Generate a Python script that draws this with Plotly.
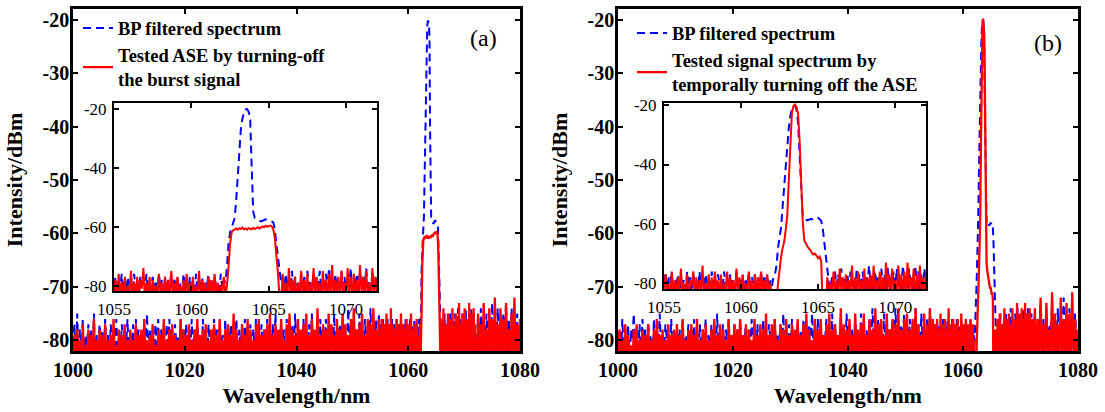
import numpy as np
import plotly.graph_objects as go

FONT = "Liberation Serif"
BLUE = "#0000FF"
RED = "#FF0000"

# ==================================================================
# Panel (a) -- BP filtered spectrum vs tested ASE (burst signal off)
# ==================================================================
# band region 1062.3 .. 1065.7 nm (0.1 nm step)
a_sig_blue = [-74, -66, -62, -60.5, -59, -57, -51, -42, -34, -27,
              -23.5, -21.2, -20.3, -20.2, -21, -23, -40, -55, -57, -57.5,
              -57.8, -58, -58.2, -58, -57.6, -57.5, -57.8, -57.9, -58, -58.2,
              -58.6, -61, -66, -70, -74]
a_sig_red = [-80, -74, -66, -62, -61.2, -61, -60.6, -61, -60.5, -60.8,
             -60.3, -60.9, -60.6, -61, -60.5, -60.7, -60.9, -60.4, -60.8, -60.5,
             -60.2, -60.6, -60.3, -59.9, -60.2, -59.7, -60, -59.8, -59.6, -59.9,
             -61, -64, -69, -76, -84]

# noise seen in the inset window: 1055.0 .. 1062.2 nm and 1065.8 .. 1072.0 nm (0.1 nm step)
a_ins_left_red = [
    -83, -78, -85, -76, -82, -79, -84, -77, -86, -80, -82, -75, -84, -79, -83, -77, -85, -78, -81, -74,
    -84, -79, -82, -77, -86, -78, -83, -80, -85, -76, -82, -79, -84, -77, -83, -78, -86, -75, -82, -79,
    -84, -77, -83, -80, -85, -78, -82, -76, -86, -79, -83, -77, -84, -80, -82, -75, -85, -78, -83, -79,
    -86, -77, -82, -78, -84, -76, -83, -79, -85, -80, -82, -77, -84]
a_ins_left_blue = [
    -80, -77, -83, -79, -81, -76, -84, -78, -82, -77, -80, -79, -85, -76, -81, -78, -83, -77, -80, -79,
    -82, -76, -84, -78, -81, -77, -80, -79, -83, -76, -81, -78, -84, -77, -82, -79, -80, -76, -83, -78,
    -81, -77, -84, -79, -82, -76, -80, -78, -83, -77, -81, -79, -85, -76, -82, -78, -80, -77, -83, -79,
    -81, -76, -84, -78, -82, -77, -80, -79, -83, -76, -81, -78, -79]
a_ins_right_red = [
    -86, -76, -83, -79, -85, -74, -82, -78, -84, -77, -86, -79, -82, -75, -84, -78, -83, -76, -85, -79,
    -82, -74, -84, -77, -83, -79, -86, -75, -82, -78, -84, -76, -83, -73, -85, -78, -82, -77, -84, -75,
    -83, -79, -86, -74, -82, -77, -84, -76, -83, -78, -85, -73, -82, -77, -84, -75, -83, -79, -86, -74,
    -82, -77, -84]
a_ins_right_blue = [
    -79, -77, -82, -76, -80, -78, -83, -75, -81, -77, -80, -79, -84, -76, -81, -77, -82, -75, -80, -78,
    -83, -76, -81, -77, -80, -75, -82, -78, -84, -76, -81, -74, -80, -77, -83, -76, -81, -78, -82, -75,
    -80, -77, -83, -76, -81, -74, -82, -78, -80, -76, -84, -75, -81, -77, -82, -74, -80, -78, -83, -75,
    -81, -77, -80]

# remaining noise of the full view: 1000.0 .. 1054.75 nm and 1072.25 .. 1080.0 nm (0.25 nm step)
a_main_left_red = [
    -84, -79, -86, -78, -82, -80, -87, -77, -83, -81, -85, -78, -88, -79, -82, -76, -86, -80, -84, -78,
    -83, -79, -87, -77, -85, -80, -82, -79, -86, -76, -84, -81, -83, -78, -88, -79, -82, -77, -85, -80,
    -86, -78, -83, -80, -84, -77, -87, -79, -82, -78, -85, -76, -83, -80, -86, -79, -84, -77, -82, -81,
    -87, -78, -84, -79, -83, -76, -86, -80, -82, -78, -88, -77, -84, -79, -83, -80, -85, -76, -82, -78,
    -86, -79, -84, -77, -83, -80, -87, -78, -82, -76, -85, -79, -84, -78, -86, -77, -83, -80, -85, -78,
    -82, -77, -88, -79, -84, -76, -83, -80, -86, -78, -82, -77, -85, -79, -84, -75, -87, -78, -83, -80,
    -85, -77, -82, -79, -86, -76, -84, -78, -83, -80, -87, -77, -82, -76, -85, -79, -84, -78, -86, -77,
    -83, -75, -85, -79, -82, -77, -86, -78, -84, -76, -83, -80, -87, -77, -82, -75, -85, -78, -84, -79,
    -86, -76, -83, -78, -85, -77, -82, -75, -87, -79, -84, -76, -83, -78, -86, -74, -82, -79, -85, -77,
    -84, -78, -86, -75, -83, -77, -82, -79, -87, -76, -84, -78, -85, -75, -83, -77, -86, -79, -82, -76,
    -85, -74, -83, -78, -86, -77, -82, -75, -84, -79, -87, -76, -83, -77, -85, -74, -82, -78, -86, -76]
a_main_left_blue = [
    -81, -77, -84, -75, -83, -78, -82, -76, -85, -79, -81, -77, -84, -78, -82, -75, -86, -79, -83, -77,
    -80, -78, -85, -76, -82, -79, -84, -77, -81, -78, -86, -76, -83, -79, -82, -77, -85, -78, -81, -76,
    -84, -79, -82, -77, -85, -76, -81, -78, -83, -79, -86, -77, -82, -75, -84, -78, -81, -79, -85, -77,
    -82, -76, -84, -78, -81, -79, -85, -77, -83, -76, -82, -78, -86, -77, -81, -79, -84, -76, -83, -78,
    -81, -77, -85, -79, -82, -76, -84, -78, -83, -77, -81, -79, -86, -76, -82, -78, -84, -77, -81, -79,
    -85, -76, -82, -78, -83, -77, -81, -79, -84, -76, -86, -78, -82, -77, -83, -79, -81, -76, -85, -78,
    -82, -77, -84, -76, -81, -79, -83, -77, -85, -78, -82, -76, -84, -79, -81, -77, -86, -78, -83, -76,
    -81, -78, -84, -77, -82, -75, -85, -79, -83, -77, -81, -78, -84, -76, -82, -79, -85, -77, -83, -75,
    -82, -77, -84, -78, -81, -76, -85, -78, -83, -77, -82, -75, -84, -79, -81, -77, -86, -76, -82, -78,
    -83, -76, -81, -78, -85, -77, -82, -75, -84, -79, -81, -77, -83, -76, -85, -78, -82, -74, -84, -77,
    -81, -76, -83, -78, -85, -75, -82, -77, -84, -76, -81, -78, -83, -74, -85, -77, -82, -76, -84, -75]
a_main_right_red = [
    -84, -75, -82, -77, -85, -73, -83, -78, -86, -74, -82, -76, -84, -72, -83, -77,
    -85, -74, -82, -76, -86, -73, -83, -78, -84, -75, -82, -72, -85, -77, -83, -76]
a_main_right_blue = [
    -80, -76, -83, -74, -81, -77, -84, -75, -80, -78, -82, -73, -81, -76, -83, -74,
    -80, -77, -84, -75, -81, -73, -82, -76, -80, -74, -83, -77, -81, -75, -84, -78]

# ==================================================================
# Panel (b) -- BP filtered spectrum vs tested signal (ASE off)
# ==================================================================
b_sig_blue = [-74, -68, -64, -61, -54, -47, -40, -33, -27.5, -23.5,
              -21.3, -20.3, -20.2, -21.5, -26, -37, -48, -57, -58.2, -58.6,
              -58.8, -58.6, -58.3, -58.5, -58.1, -58, -58.2, -58, -58.4, -59,
              -61.5, -66, -72, -77, -80]
b_sig_red = [-86, -80, -75, -71, -68, -66, -62, -57, -45, -32,
             -22.5, -20.3, -19.8, -20.8, -23, -32, -45, -59, -65.5, -66.8,
             -67.5, -68.3, -68.8, -69.8, -70.3, -70, -71, -71.5, -71, -72.5,
             -88, -88, -88, -78, -84]

b_ins_left_red = [
    -84, -77, -82, -80, -86, -76, -83, -79, -85, -78, -82, -75, -84, -80, -83, -77, -86, -79, -81, -76,
    -85, -78, -83, -79, -82, -74, -86, -80, -84, -77, -83, -78, -85, -76, -82, -79, -84, -77, -86, -80,
    -82, -76, -84, -78, -83, -79, -85, -75, -82, -78, -86, -77, -83, -80, -84, -76, -82, -79, -85, -77,
    -83, -78, -86, -76, -82, -79, -84, -77, -83, -80, -85, -82, -86]
b_ins_left_blue = [
    -79, -77, -82, -78, -80, -76, -83, -79, -81, -77, -84, -78, -80, -79, -82, -76, -81, -78, -83, -77,
    -80, -79, -84, -76, -81, -78, -82, -77, -80, -79, -83, -76, -81, -78, -84, -77, -80, -79, -82, -76,
    -81, -78, -83, -77, -80, -79, -84, -76, -82, -78, -80, -77, -83, -79, -81, -76, -84, -78, -80, -77,
    -82, -79, -81, -76, -83, -78, -80, -77, -82, -79, -81, -78, -77]
b_ins_right_red = [
    -80, -84, -76, -83, -79, -86, -75, -82, -78, -84, -77, -85, -79, -82, -74, -86, -78, -83, -76, -84,
    -79, -82, -75, -85, -78, -83, -77, -86, -74, -82, -79, -84, -76, -83, -78, -85, -73, -82, -77, -84,
    -75, -83, -79, -86, -74, -82, -77, -84, -76, -85, -73, -83, -78, -82, -75, -86, -77, -84, -74, -82,
    -78, -85, -76]
b_ins_right_blue = [
    -82, -78, -80, -76, -83, -77, -81, -75, -84, -78, -80, -77, -82, -76, -81, -79, -83, -75, -80, -77,
    -82, -76, -84, -78, -81, -74, -80, -77, -83, -76, -81, -78, -82, -75, -80, -77, -84, -74, -81, -78,
    -80, -76, -83, -75, -81, -78, -82, -74, -80, -77, -84, -75, -81, -78, -83, -74, -80, -76, -82, -77,
    -81, -75, -83]

b_main_left_red = [
    -85, -78, -83, -80, -87, -77, -84, -79, -82, -81, -86, -78, -83, -77, -88, -80, -82, -78, -85, -79,
    -84, -77, -86, -80, -83, -78, -85, -76, -82, -79, -87, -78, -84, -80, -83, -77, -86, -79, -82, -78,
    -88, -77, -84, -79, -83, -76, -85, -80, -82, -78, -86, -77, -83, -79, -84, -76, -87, -80, -82, -78,
    -85, -77, -83, -80, -86, -78, -82, -76, -84, -79, -83, -77, -87, -78, -82, -80, -85, -76, -84, -79,
    -83, -77, -86, -78, -82, -76, -85, -79, -84, -77, -88, -78, -83, -80, -82, -76, -86, -79, -84, -77,
    -85, -78, -82, -75, -86, -79, -83, -77, -84, -76, -82, -80, -87, -77, -83, -78, -85, -76, -82, -79,
    -86, -77, -84, -78, -83, -76, -85, -79, -82, -77, -87, -75, -83, -78, -84, -80, -82, -76, -86, -78,
    -84, -76, -83, -79, -85, -77, -82, -75, -86, -78, -83, -77, -84, -79, -82, -74, -87, -77, -83, -78,
    -85, -76, -82, -79, -86, -75, -83, -78, -84, -77, -82, -75, -85, -79, -83, -76, -86, -78, -82, -74,
    -84, -77, -86, -76, -83, -79, -82, -75, -85, -78, -83, -76, -87, -77, -82, -74, -84, -78, -86, -76,
    -83, -75, -85, -78, -82, -76, -86, -74, -83, -77, -84, -79, -82, -75, -87, -77, -83, -74, -85, -76]
b_main_left_blue = [
    -80, -78, -84, -76, -82, -79, -81, -77, -85, -78, -80, -75, -83, -79, -82, -77, -84, -76, -81, -78,
    -83, -77, -80, -79, -85, -76, -82, -78, -84, -75, -81, -79, -83, -77, -80, -78, -86, -76, -82, -79,
    -81, -77, -84, -78, -82, -76, -85, -79, -80, -77, -83, -78, -81, -76, -84, -79, -82, -77, -85, -78,
    -80, -76, -83, -79, -81, -77, -84, -78, -82, -75, -85, -79, -81, -77, -83, -78, -80, -76, -84, -79,
    -82, -77, -81, -78, -85, -76, -83, -79, -80, -77, -84, -78, -82, -76, -81, -79, -85, -77, -83, -78,
    -81, -76, -84, -79, -82, -77, -80, -78, -85, -76, -83, -79, -81, -77, -84, -75, -82, -78, -80, -77,
    -84, -76, -82, -79, -81, -77, -85, -78, -83, -76, -80, -79, -84, -77, -82, -75, -81, -78, -85, -76,
    -82, -77, -84, -79, -80, -76, -83, -78, -81, -75, -85, -77, -82, -79, -84, -76, -80, -78, -83, -75,
    -81, -77, -84, -78, -82, -76, -80, -79, -85, -75, -83, -77, -81, -78, -84, -76, -82, -74, -80, -78,
    -83, -76, -81, -79, -85, -75, -82, -77, -84, -78, -80, -76, -83, -74, -81, -78, -85, -77, -82, -75,
    -80, -77, -84, -76, -82, -78, -81, -74, -85, -77, -83, -75, -80, -78, -84, -76, -82, -74, -81, -77]
b_main_right_red = [
    -83, -74, -86, -76, -82, -72, -85, -77, -83, -73, -84, -78, -82, -71, -86, -75,
    -83, -77, -85, -72, -82, -76, -84, -73, -86, -75, -82, -71, -84, -76, -83, -78]
b_main_right_blue = [
    -79, -75, -83, -77, -80, -73, -84, -76, -81, -74, -82, -77, -80, -73, -85, -76,
    -81, -74, -83, -77, -80, -72, -82, -76, -84, -74, -81, -77, -83, -75, -80, -84]

# ticks and texts
main_xticks = [1000, 1020, 1040, 1060, 1080]
main_yticks = [-20, -30, -40, -50, -60, -70, -80]
inset_xticks = [1055, 1060, 1065, 1070]
inset_yticks = [-20, -40, -60, -80]
legend_a = ["BP filtered spectrum", "Tested ASE by turning-off<br>the burst signal"]
legend_b = ["BP filtered spectrum", "Tested signal spectrum by<br>temporally turning off the ASE"]

# wavelength spans of each measured piece
SIG_SPAN = (1062.3, 1065.7)
INS_LEFT = (1055.0, 1062.2)
INS_RIGHT = (1065.8, 1072.0)
MAIN_LEFT = (1000.0, 1054.75)
MAIN_RIGHT = (1072.25, 1080.0)


def grid(span, vals):
    return np.linspace(span[0], span[1], len(vals))


def inset_series(il, sig, ir):
    x = np.concatenate([grid(INS_LEFT, il), grid(SIG_SPAN, sig), grid(INS_RIGHT, ir)])
    return x, np.concatenate([il, sig, ir]).astype(float)


def main_series(ml, il, sig, ir, mr):
    xi, yi = inset_series(il, sig, ir)
    x = np.concatenate([grid(MAIN_LEFT, ml), xi, grid(MAIN_RIGHT, mr)])
    y = np.concatenate([np.asarray(ml, float), yi, np.asarray(mr, float)])
    return x, y


W, H = 1105, 412


def px(x0, x1):
    return [x0 / W, x1 / W]


def py(top, bottom):
    return [1 - bottom / H, 1 - top / H]


fig = go.Figure()
DASH = "8px,5px"


def add_panel(xa, ya, xi, yi, leg, names, sb, sr, mlb, mlr, mrb, mrr, ilb, ilr, irb, irr):
    x, y = main_series(mlb, ilb, sb, irb, mrb)
    fig.add_trace(go.Scatter(x=x, y=y, mode="lines", name=names[0],
                             line=dict(color=BLUE, width=2, dash=DASH),
                             xaxis=xa, yaxis=ya, legend=leg))
    x, y = main_series(mlr, ilr, sr, irr, mrr)
    fig.add_trace(go.Scatter(x=x, y=y, mode="lines", name=names[1],
                             line=dict(color=RED, width=2.3),
                             xaxis=xa, yaxis=ya, legend=leg))
    x, y = inset_series(ilb, sb, irb)
    fig.add_trace(go.Scatter(x=x, y=y, mode="lines", showlegend=False,
                             line=dict(color=BLUE, width=2, dash=DASH),
                             xaxis=xi, yaxis=yi))
    x, y = inset_series(ilr, sr, irr)
    fig.add_trace(go.Scatter(x=x, y=y, mode="lines", showlegend=False,
                             line=dict(color=RED, width=2),
                             xaxis=xi, yaxis=yi))


add_panel("x", "y", "x2", "y2", "legend", legend_a, a_sig_blue, a_sig_red,
          a_main_left_blue, a_main_left_red, a_main_right_blue, a_main_right_red,
          a_ins_left_blue, a_ins_left_red, a_ins_right_blue, a_ins_right_red)
add_panel("x3", "y3", "x4", "y4", "legend2", legend_b, b_sig_blue, b_sig_red,
          b_main_left_blue, b_main_left_red, b_main_right_blue, b_main_right_red,
          b_ins_left_blue, b_ins_left_red, b_ins_right_blue, b_ins_right_red)

bold_tick = dict(family=FONT, size=20, color="black", weight="bold")
ins_tick = dict(family=FONT, size=17, color="black")
title_font = dict(family=FONT, size=22, color="black", weight="bold")
common = dict(ticks="inside", ticklen=5, tickwidth=2, tickcolor="black",
              showline=True, linecolor="black", mirror="allticks",
              showgrid=False, zeroline=False, automargin=False)


def main_x(domain, anchor):
    return dict(domain=domain, anchor=anchor, range=[1000, 1080],
                tickvals=main_xticks, ticktext=[str(v) for v in main_xticks],
                linewidth=2.5, tickfont=bold_tick, ticklabelstandoff=-1,
                title=dict(text="Wavelength/nm", font=title_font, standoff=8), **common)


def main_y(domain, anchor):
    return dict(domain=domain, anchor=anchor, range=[-82, -18],
                tickvals=main_yticks, ticktext=[str(v) for v in main_yticks],
                linewidth=2.5, tickfont=bold_tick, ticklabelstandoff=-3,
                title=dict(text="Intensity/dBm", font=title_font, standoff=14), **common)


def ins_x(domain, anchor):
    return dict(domain=domain, anchor=anchor, range=[1055, 1072],
                tickvals=inset_xticks, ticktext=[str(v) for v in inset_xticks],
                linewidth=2, tickfont=ins_tick, ticklabelstandoff=2, **common)


def ins_y(domain, anchor, rng):
    return dict(domain=domain, anchor=anchor, range=rng,
                tickvals=inset_yticks, ticktext=[str(v) for v in inset_yticks],
                linewidth=2, tickfont=ins_tick, ticklabelstandoff=2, **common)


leg_font = dict(family=FONT, size=18.5, color="black", weight="bold")
leg_common = dict(xanchor="left", yanchor="top", bgcolor="rgba(0,0,0,0)",
                  borderwidth=0, font=leg_font, tracegroupgap=0, itemwidth=30)

fig.update_layout(
    template="none",
    width=W, height=H,
    margin=dict(l=0, r=0, t=0, b=0, pad=0),
    paper_bgcolor="white", plot_bgcolor="white",
    xaxis=main_x(px(73, 520), "y"),
    yaxis=main_y(py(9, 351), "x"),
    xaxis2=ins_x(px(114, 377), "y2"),
    yaxis2=ins_y(py(103, 291), "x2", [-81.8, -18.1]),
    xaxis3=main_x(px(618, 1078), "y3"),
    yaxis3=main_y(py(9, 351), "x3"),
    xaxis4=ins_x(px(664, 926), "y4"),
    yaxis4=ins_y(py(103, 289), "x4", [-81.9, -19.3]),
    legend=dict(x=78 / W, y=1 - 9.5 / H, **leg_common),
    legend2=dict(x=632 / W, y=1 - 14.5 / H, **leg_common),
    annotations=[
        dict(text="(a)", x=483 / W, y=1 - 38 / H, xref="paper", yref="paper",
             xanchor="center", yanchor="middle", showarrow=False,
             font=dict(family=FONT, size=24, color="black")),
        dict(text="(b)", x=1048 / W, y=1 - 43 / H, xref="paper", yref="paper",
             xanchor="center", yanchor="middle", showarrow=False,
             font=dict(family=FONT, size=24, color="black")),
    ],
)

fig.write_html("out.html",
               config={"displayModeBar": False},
               post_script="document.body.style.margin='0px';"
                           "document.body.style.overflow='hidden';")
